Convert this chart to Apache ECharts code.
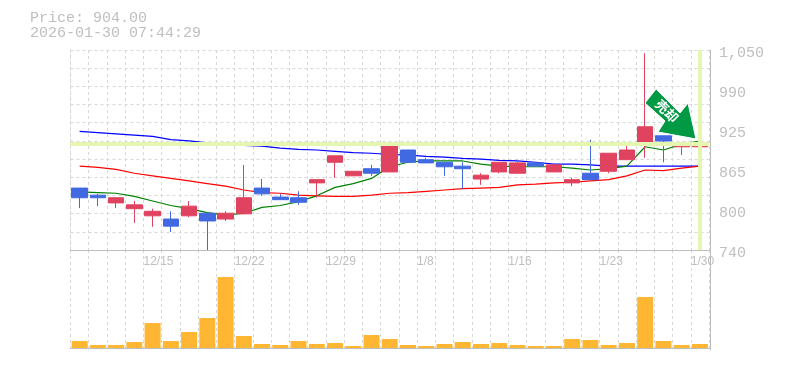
<!DOCTYPE html>
<html>
<head>
<meta charset="utf-8">
<style>html,body{margin:0;padding:0;background:#fff}#c{width:785px;height:370px}</style>
<script src="https://cdn.jsdelivr.net/npm/echarts@6/dist/echarts.min.js"></script>
</head>
<body>
<div id="c"></div>
<script>
const dates = ['12/9','12/10','12/11','12/12','12/15','12/16','12/17','12/18','12/19','12/22','12/23','12/24','12/25','12/26','12/29','12/30','1/5','1/6','1/7','1/8','1/9','1/13','1/14','1/15','1/16','1/19','1/20','1/21','1/22','1/23','1/26','1/27','1/28','1/29','1/30'];
const xTickLabels = ['12/15','12/22','12/29','1/8','1/16','1/23','1/30'];
const yTickLabels = ['740','800','865','925','990','1,050'];
const opens  = [836,825,813,804,793,788,793,797,788,796,836,822,821,844,876,855,866,861,895,880,876,870,850,861,859,875,861,844,859,862,880,906,917,900,900];
const closes = [821,821,821,810,800,777,808,785,797,821,827,818,814,849,886,862,859,906,876,875,869,866,856,876,875,870,872,849,849,890,895,931,909,904,904];
const lows   = [805,808,805,782,776,768,791,740,785,796,824,818,810,821,852,855,855,861,876,875,855,835,841,859,859,870,861,839,849,859,880,883,876,887,892];
const highs  = [836,827,822,816,804,800,816,799,800,872,850,827,831,849,886,862,872,906,895,883,876,876,859,876,880,875,872,852,911,890,906,1045,917,904,911];
const maLong  = [924,922,920,918,916,911,909,906,904,902,901,898,896,895,893,891,890,888,887,885,884,882,881,879,878,876,873,873,872,870,870,870,870,870,870];
const maMid   = [870,868,865,859,855,851,847,843,839,833,829,828,825,824,823,823,825,828,829,831,833,835,836,837,841,842,844,845,847,849,855,864,863,867,870];
const maShort = [830,829,828,823,816,809,804,798,794,797,806,809,815,824,837,843,851,869,876,878,878,878,873,870,869,869,869,867,864,866,870,900,895,904,909];
const volumes = [7,3,3,6,25,7,16,30,71,12,4,3,7,4,5,2,13,9,3,2,4,6,4,5,3,2,2,9,8,3,5,51,7,3,4];
const lastPrice = 904;
const stamp = '2026-01-30 07:44:29';

const GREY = '#bdbdbd', TXT = '#bfbfbf', DASH = '#d8d8d8', HL = '#e5f6b0';
const MONO = '"Liberation Mono", monospace';
const L = 70.5, W = 638.5;
const candles = opens.map((o, i) => [o, closes[i], lows[i], highs[i]]);
const dash = { color: DASH, type: [3, 3], width: 1 };

const chart = echarts.init(document.getElementById('c'), null, { renderer: 'canvas' });
chart.setOption({
  animation: false,
  backgroundColor: '#fff',
  grid: [
    { left: L, top: 50, width: W, height: 200, containLabel: false },
    { left: L, top: 250, width: W, height: 100, containLabel: false }
  ],
  xAxis: [
    { type: 'category', gridIndex: 0, data: dates, boundaryGap: true,
      axisLine: { show: true, lineStyle: { color: GREY, width: 1 } },
      axisTick: { show: false }, axisLabel: { show: false },
      splitLine: { show: true, interval: 0, lineStyle: dash } },
    { type: 'category', gridIndex: 1, data: dates, boundaryGap: true,
      axisLine: { show: true, lineStyle: { color: GREY, width: 1 } },
      axisTick: { show: false }, axisLabel: { show: false },
      splitLine: { show: true, interval: 0, lineStyle: dash } },
    { type: 'category', gridIndex: 0, data: dates.concat(['']), boundaryGap: false, position: 'bottom',
      axisLine: { show: false }, axisTick: { show: false }, splitLine: { show: false },
      axisLabel: { show: true, interval: 0, align: 'left', margin: 6, color: TXT, fontFamily: '"Liberation Sans", sans-serif', fontSize: 12,
        showMinLabel: true, showMaxLabel: true, hideOverlap: false,
        formatter: v => xTickLabels.includes(v) ? v : '' } }
  ],
  yAxis: [
    { type: 'value', gridIndex: 0, min: 740, max: 1050, position: 'right',
      axisLine: { show: false }, axisTick: { show: false }, axisLabel: { show: false }, splitLine: { show: false } },
    { type: 'value', gridIndex: 1, min: -2, max: 98, position: 'left',
      axisLine: { show: false }, axisTick: { show: false }, axisLabel: { show: false }, splitLine: { show: false } },
    { type: 'value', gridIndex: 0, min: 0, max: 5, interval: 1, position: 'right', offset: 1,
      axisLine: { show: true, onZero: false, lineStyle: { color: GREY, width: 1 } }, axisTick: { show: false },
      axisLabel: { show: true, margin: 9, color: TXT, fontFamily: MONO, fontSize: 15, verticalAlign: 'top', lineHeight: 7,
        formatter: v => yTickLabels[v] }, splitLine: { show: false } },
    { type: 'value', gridIndex: 0, min: 0, max: 11, interval: 1, position: 'left',
      axisLine: { show: true, onZero: false, lineStyle: dash }, axisTick: { show: false }, axisLabel: { show: false },
      splitLine: { show: true, lineStyle: dash } },
    { type: 'value', gridIndex: 1, min: 0, max: 1, interval: 1, position: 'right', offset: 1,
      axisLine: { show: true, onZero: false, lineStyle: { color: GREY, width: 1 } }, axisTick: { show: false },
      axisLabel: { show: false }, splitLine: { show: false } }
  ],
  series: [
    { name: 'long', type: 'line', xAxisIndex: 0, yAxisIndex: 0, data: maLong, z: 2, showSymbol: false, symbol: 'none',
      lineStyle: { color: '#0000ff', width: 1.2 },
      markLine: { silent: true, symbol: 'none', animation: false, label: { show: false },
        lineStyle: { color: HL, width: 4, type: 'solid' },
        data: [{ yAxis: lastPrice }, { xAxis: dates[dates.length - 1] }] } },
    { name: 'mid', type: 'line', xAxisIndex: 0, yAxisIndex: 0, data: maMid, z: 2, showSymbol: false, symbol: 'none',
      lineStyle: { color: '#ff0000', width: 1.2 } },
    { name: 'short', type: 'line', xAxisIndex: 0, yAxisIndex: 0, data: maShort, z: 2, showSymbol: false, symbol: 'none',
      lineStyle: { color: '#008000', width: 1.2 } },
    { name: 'price', type: 'candlestick', xAxisIndex: 0, yAxisIndex: 0, data: candles, z: 3, barWidth: 16,
      itemStyle: { color: '#e0435f', color0: '#4169e1', borderColor: '#e0435f', borderColor0: '#4169e1', borderWidth: 1 } },
    { name: 'volume', type: 'bar', xAxisIndex: 1, yAxisIndex: 1, data: volumes, barWidth: 16, z: 3,
      itemStyle: { color: '#ffb733' } }
  ],
  graphic: [
    { type: 'text', left: 30, top: 11, z: 10, style: { text: 'Price: ' + lastPrice.toFixed(2), fill: TXT, font: '15px ' + MONO } },
    { type: 'text', left: 30, top: 26, z: 10, style: { text: stamp, fill: TXT, font: '15px ' + MONO } },
    { type: 'polygon', z: 20, shape: { points: [[645,103],[656,89],[680,113],[688,103],[696,139],[658,132],[665,121]] },
      style: { fill: '#009944', stroke: '#ffffff', lineWidth: 1 } },
    { type: 'text', z: 21, x: 667, y: 111, rotation: -Math.PI / 4,
      style: { text: '売却', fill: '#fff', font: 'bold 13px "Noto Sans CJK JP"', align: 'center', verticalAlign: 'middle' } }
  ]
});
</script>
</body>
</html>
